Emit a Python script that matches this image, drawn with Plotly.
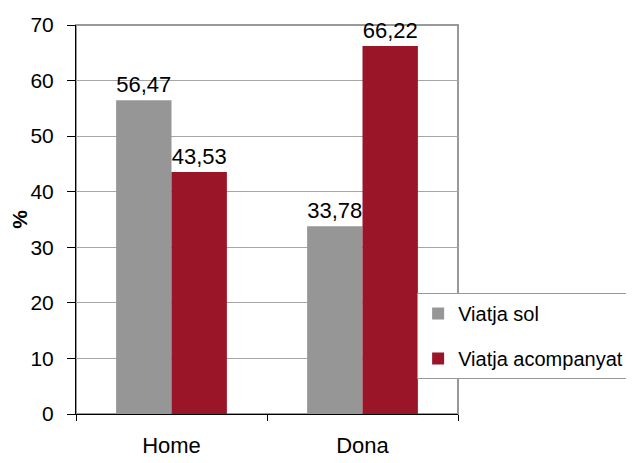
import plotly.graph_objects as go

categories = ["Home", "Dona"]
viatja_sol = [56.47, 33.78]
viatja_acompanyat = [43.53, 66.22]
series_names = ["Viatja sol", "Viatja acompanyat"]
colors = ["#969696", "#9B1528"]

FONT = "Liberation Sans, Arial, sans-serif"

fig = go.Figure()
for i, (name, vals, col) in enumerate(zip(series_names, [viatja_sol, viatja_acompanyat], colors)):
    fig.add_trace(go.Bar(
        x=categories, y=vals, name=name, marker_color=col,
        marker_line_width=0, legendgroup=f"g{i}",
        texttemplate="%{y:.2f}", textposition="outside",
        textfont=dict(size=22, color="black", family=FONT),
        constraintext="none", cliponaxis=False,
    ))

fig.update_layout(
    width=634, height=463,
    margin=dict(l=68, r=184, t=17, b=57),
    paper_bgcolor="white", plot_bgcolor="white",
    separators=", ",
    barmode="group", bargap=0.42, bargroupgap=0,
    font=dict(family=FONT, size=22, color="black"),
    showlegend=True,
    legend=dict(
        x=0.893, y=0.311, xanchor="left", yanchor="top",
        bgcolor="white", bordercolor="#999999", borderwidth=1,
        font=dict(size=20, family=FONT, color="black"),
        tracegroupgap=16, itemwidth=30,
    ),
    xaxis=dict(
        automargin=False,
        showline=True, linecolor="black", linewidth=1,
        ticks="outside", tickson="boundaries", ticklen=6, tickcolor="black",
        ticklabelstandoff=12,
        tickfont=dict(size=22, family=FONT),
    ),
    yaxis=dict(
        automargin=False,
        range=[0, 70], dtick=10, showline=True, linecolor="black", linewidth=1,
        ticks="outside", ticklen=8, tickcolor="black", ticklabelstandoff=9,
        showgrid=True, gridcolor="#A6A6A6", gridwidth=1, zeroline=False,
        tickfont=dict(size=21, family=FONT),
        title=dict(text="<b>%</b>", font=dict(size=21, family=FONT), standoff=8),
    ),
    shapes=[dict(type="rect", xref="paper", yref="paper", x0=0, x1=1, y0=0, y1=1,
                 line=dict(color="#999999", width=2), layer="below")],
)

fig.write_html("out.html")
